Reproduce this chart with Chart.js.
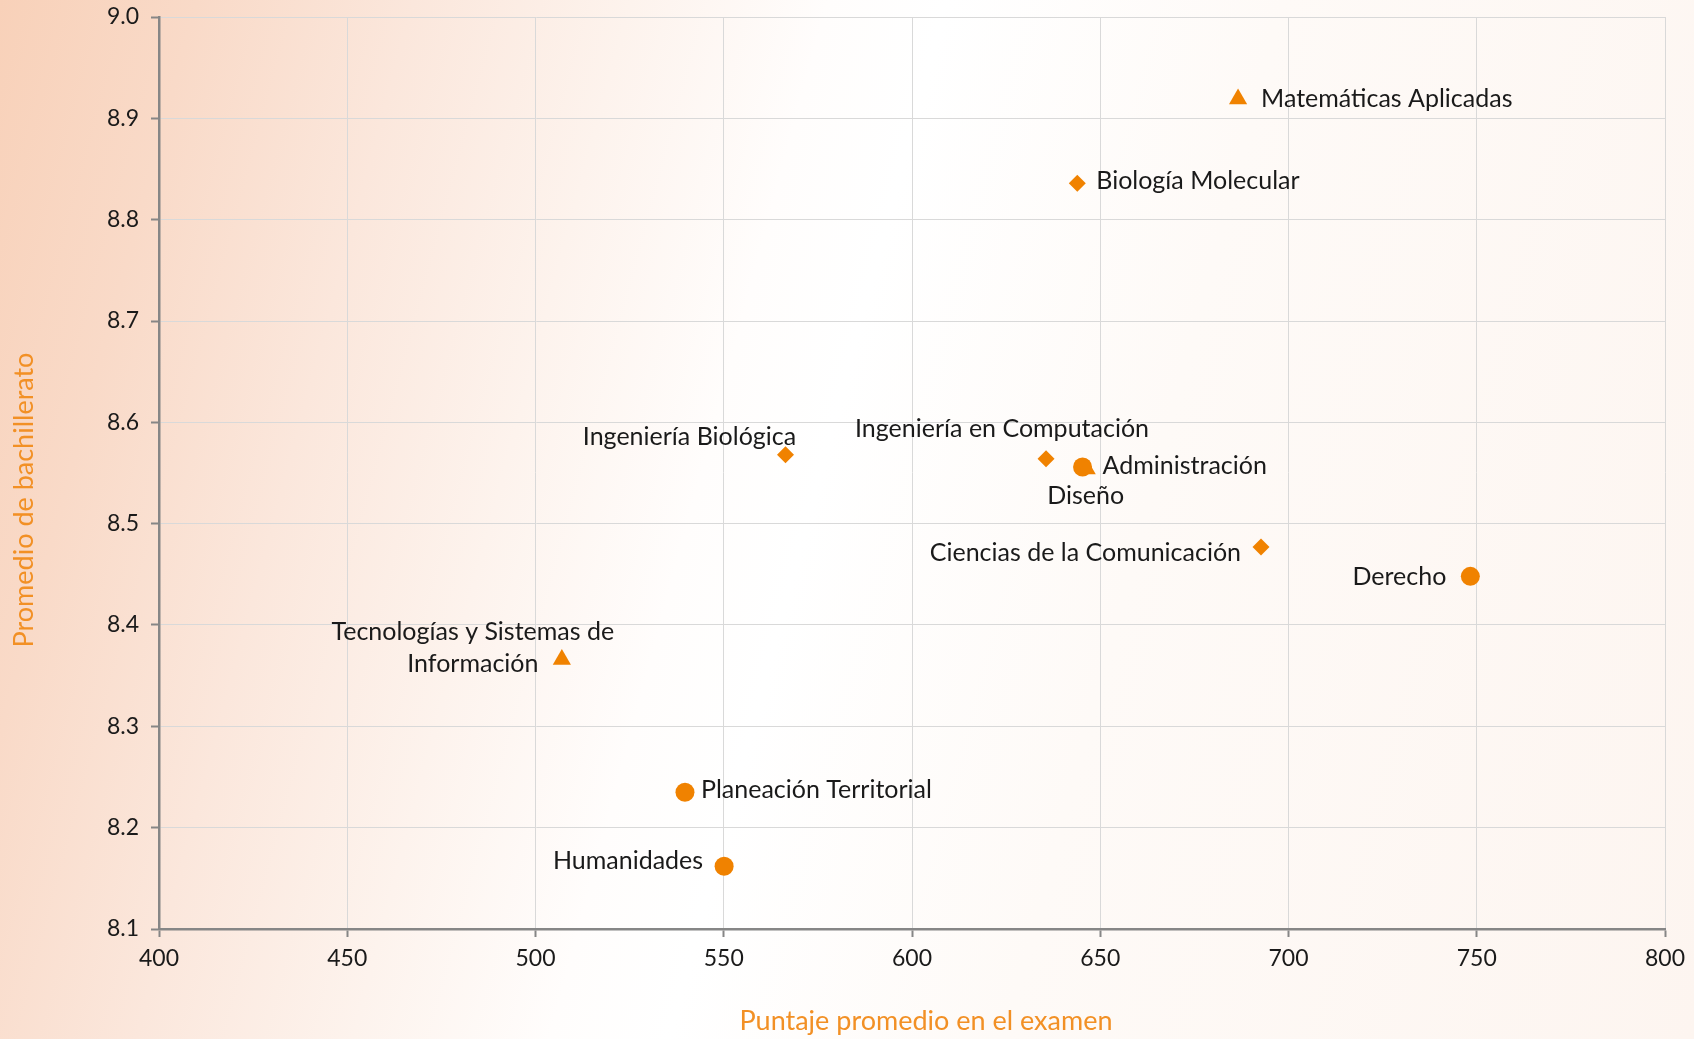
<!DOCTYPE html>
<html>
<head>
<meta charset="utf-8">
<script src="https://cdn.jsdelivr.net/npm/chart.js@4/dist/chart.umd.min.js"></script>
<style>
html, body { margin: 0; padding: 0; }
body {
	width: 1694px;
	height: 1039px;
	overflow: hidden;
	background: linear-gradient(105deg, #f8d1b9 0%, #f9dac8 10%, #fbe7dc 21%, #fdf3ed 32%, #fffdfc 42%, #ffffff 48%, #fefaf7 65%, #fdf5f0 100%);
}
#wrap { width: 1694px; height: 1039px; }
</style>
</head>
<body>
<div id="wrap"><canvas id="myChart" width="1694" height="1039"></canvas></div>
<script>
const markerColor = '#f08200'
const titleColor = '#f29025'
const axisColor = '#868686'
const gridColor = '#d9d9d9'
const fontName = 'Lato'

// carreras
const names = [
	'Matemáticas Aplicadas',
	'Biología Molecular',
	'Ingeniería Biológica',
	'Ingeniería en Computación',
	'Administración',
	'Diseño',
	'Ciencias de la Comunicación',
	'Derecho',
	['Tecnologías y Sistemas de', 'Información'],
	'Planeación Territorial',
	'Humanidades'
]
// puntaje promedio en el examen
const scores = [686.6, 643.9, 566.4, 635.6, 645.3, 646.4, 692.7, 748.3, 507.0, 539.7, 550.1]
// promedio de bachillerato
const grades = [8.919, 8.836, 8.568, 8.564, 8.556, 8.554, 8.477, 8.448, 8.366, 8.235, 8.162]
const shapes = ['triangle', 'rectRot', 'rectRot', 'rectRot', 'circle', 'triangle', 'rectRot', 'circle', 'triangle', 'circle', 'circle']

const xTicks = [400, 450, 500, 550, 600, 650, 700, 750, 800]
const yTicks = [8.1, 8.2, 8.3, 8.4, 8.5, 8.6, 8.7, 8.8, 8.9, 9.0]

const xTitle = 'Puntaje promedio en el examen'
const yTitle = 'Promedio de bachillerato'

// where each label sits next to its marker: [textAlign, dx, dy]
const labelPlace = [
	['left', 23, 0],
	['left', 19, -2],
	['center', -96, -18],
	['center', -44, -30],
	['left', 20, -1],
	['center', -1, 27],
	['right', -20, 6],
	['right', -24, 1],
	['center', -89, -12],
	['left', 16, -2],
	['right', -21, -5]
]

const pointSizes = { circle: 9.5, triangle: 10.5, rectRot: 8.5 }

const points = []
for (var i = 0; i < names.length; i++) {
	points.push({ x: scores[i], y: grades[i] })
}

const pointLabels = {
	id: 'pointLabels',
	afterDatasetsDraw(chart) {
		const c = chart.ctx
		const meta = chart.getDatasetMeta(0)
		c.save()
		c.font = '25px ' + fontName
		c.fillStyle = '#1a1a1a'
		c.textBaseline = 'middle'
		for (var i = 0; i < meta.data.length; i++) {
			const el = meta.data[i]
			const p = labelPlace[i]
			c.textAlign = p[0]
			const lines = Array.isArray(names[i]) ? names[i] : [names[i]]
			const lh = 32
			const y0 = el.y + p[2] - (lines.length - 1) * lh / 2
			for (var j = 0; j < lines.length; j++) {
				c.fillText(lines[j], el.x + p[1], y0 + j * lh)
			}
		}
		c.restore()
	}
}

// axis titles, drawn a bit off-centre as in the original
const axisTitles = {
	id: 'axisTitles',
	afterDraw(chart) {
		const c = chart.ctx
		const a = chart.chartArea
		c.save()
		c.font = '27px ' + fontName
		c.fillStyle = titleColor
		c.textAlign = 'center'
		c.textBaseline = 'middle'
		c.fillText(xTitle, (a.left + a.right) / 2 + 14, 1021)
		c.translate(24, (a.top + a.bottom) / 2 + 27)
		c.rotate(-Math.PI / 2)
		c.fillText(yTitle, 0, 0)
		c.restore()
	}
}

var ctx = document.getElementById('myChart')
var chart = new Chart(ctx, {
	type: 'scatter',
	data: {
		datasets: [{
			data: points,
			pointStyle: shapes,
			pointRadius: shapes.map(s => pointSizes[s]),
			pointHoverRadius: shapes.map(s => pointSizes[s]),
			backgroundColor: markerColor,
			borderColor: markerColor,
			pointBorderWidth: 0
		}]
	},
	options: {
		responsive: false,
		animation: false,
		layout: { padding: { top: 17, right: 29, left: 0, bottom: 0 } },
		plugins: {
			legend: { display: false },
			tooltip: { enabled: false }
		},
		scales: {
			x: {
				type: 'linear',
				min: 400,
				max: 800,
				afterBuildTicks: s => { s.ticks = xTicks.map(v => ({ value: v })) },
				afterFit: s => { s.height = 110; s.paddingLeft = 0; s.paddingRight = 0 },
				border: { color: axisColor, width: 2.5 },
				grid: { color: gridColor, lineWidth: 1, tickLength: 8, tickColor: axisColor, tickWidth: 2 },
				ticks: { color: '#1a1a1a', font: { family: fontName, size: 23 }, padding: 8, maxRotation: 0 }
			},
			y: {
				type: 'linear',
				min: 8.1,
				max: 9.0,
				afterBuildTicks: s => { s.ticks = yTicks.map(v => ({ value: v })) },
				afterFit: s => { s.width = 159; s.paddingTop = 0; s.paddingBottom = 0 },
				border: { color: axisColor, width: 2.5 },
				grid: { color: gridColor, lineWidth: 1, tickLength: 8, tickColor: axisColor, tickWidth: 2 },
				ticks: {
					color: '#1a1a1a',
					font: { family: fontName, size: 23 },
					padding: 12,
					callback: v => v.toFixed(1)
				}
			}
		}
	},
	plugins: [pointLabels, axisTitles]
})
</script>
</body>
</html>
